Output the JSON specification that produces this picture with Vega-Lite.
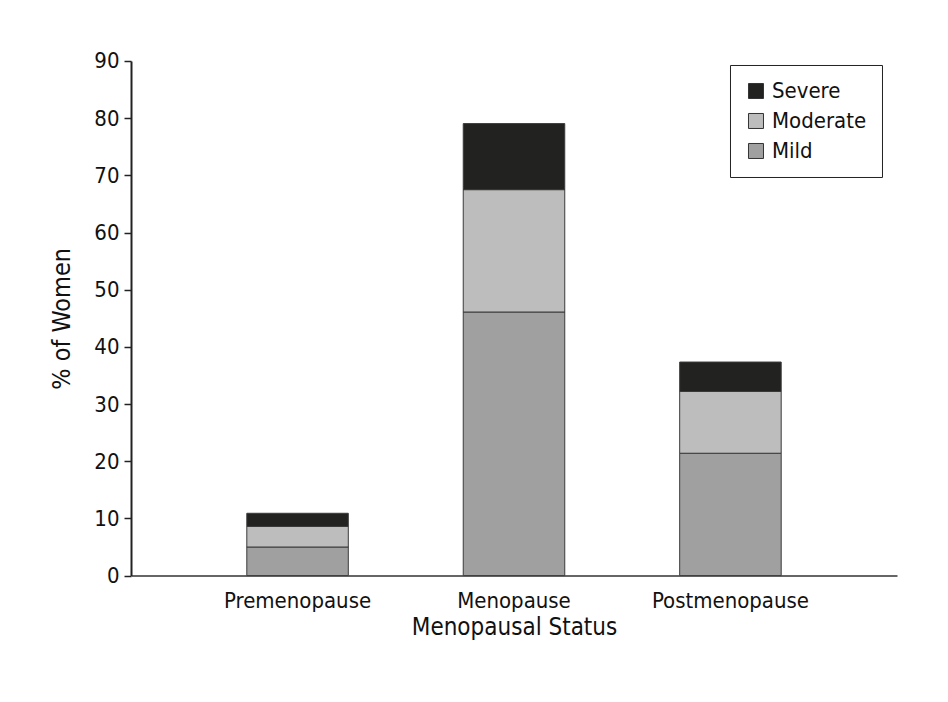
{
  "$schema": "https://vega.github.io/schema/vega-lite/v6.json",
  "autosize": {"type": "none"},
  "width": 766,
  "height": 514.6,
  "padding": {"left": 131, "top": 61, "right": 51, "bottom": 126},
  "background": "white",
  "config": {
    "view": {"stroke": null},
    "font": "DejaVu Sans Condensed, sans-serif",
    "axis": {"labelFont": "DejaVu Sans Condensed, sans-serif", "titleFont": "DejaVu Sans Condensed, sans-serif", "labelColor": "#111", "titleColor": "#111", "titleFontWeight": "normal", "grid": false},
    "legend": {"labelFont": "DejaVu Sans Condensed, sans-serif"}
  },
  "data": {
    "values": [
      {"status": "Premenopause", "severity": "Mild", "rank": 1, "pct": 5.0},
      {"status": "Premenopause", "severity": "Moderate", "rank": 2, "pct": 3.6},
      {"status": "Premenopause", "severity": "Severe", "rank": 3, "pct": 2.3},
      {"status": "Menopause", "severity": "Mild", "rank": 1, "pct": 46.1},
      {"status": "Menopause", "severity": "Moderate", "rank": 2, "pct": 21.4},
      {"status": "Menopause", "severity": "Severe", "rank": 3, "pct": 11.55},
      {"status": "Postmenopause", "severity": "Mild", "rank": 1, "pct": 21.4},
      {"status": "Postmenopause", "severity": "Moderate", "rank": 2, "pct": 10.8},
      {"status": "Postmenopause", "severity": "Severe", "rank": 3, "pct": 5.15}
    ]
  },
  "mark": {"type": "bar", "stroke": "#3a3a3a", "strokeWidth": 1},
  "encoding": {
    "x": {
      "field": "status",
      "type": "nominal",
      "sort": ["Premenopause", "Menopause", "Postmenopause"],
      "scale": {"paddingInner": 0.531, "paddingOuter": 0.535},
      "axis": {
        "title": "Menopausal Status",
        "labelAngle": 0,
        "labelFontSize": 22,
        "titleFontSize": 24,
        "ticks": false,
        "tickSize": 0,
        "labelPadding": 15,
        "titlePadding": 4,
        "domainColor": "#333",
        "domainWidth": 1.5
      }
    },
    "y": {
      "field": "pct",
      "type": "quantitative",
      "stack": "zero",
      "scale": {"domain": [0, 90], "nice": false},
      "axis": {
        "title": "% of Women",
        "values": [0, 10, 20, 30, 40, 50, 60, 70, 80, 90],
        "labelFontSize": 22,
        "titleFontSize": 25,
        "tickSize": 7,
        "tickColor": "#222",
        "tickWidth": 1.5,
        "labelPadding": 5,
        "titlePadding": 19,
        "domainColor": "#222",
        "domainWidth": 2
      }
    },
    "color": {
      "field": "severity",
      "type": "nominal",
      "scale": {"domain": ["Severe", "Moderate", "Mild"], "range": ["#222220", "#bdbdbd", "#a0a0a0"]},
      "legend": {
        "title": null,
        "orient": "none",
        "legendX": 599,
        "legendY": 4,
        "padding": 15,
        "rowPadding": 8,
        "labelFontSize": 22,
        "labelColor": "#111",
        "labelOffset": 5,
        "symbolType": "square",
        "symbolSize": 225,
        "symbolStrokeColor": "#333",
        "symbolStrokeWidth": 1,
        "strokeColor": "#222",
        "fillColor": "white",
        "cornerRadius": 0
      }
    },
    "order": {"field": "rank", "type": "quantitative", "sort": "ascending"}
  }
}
